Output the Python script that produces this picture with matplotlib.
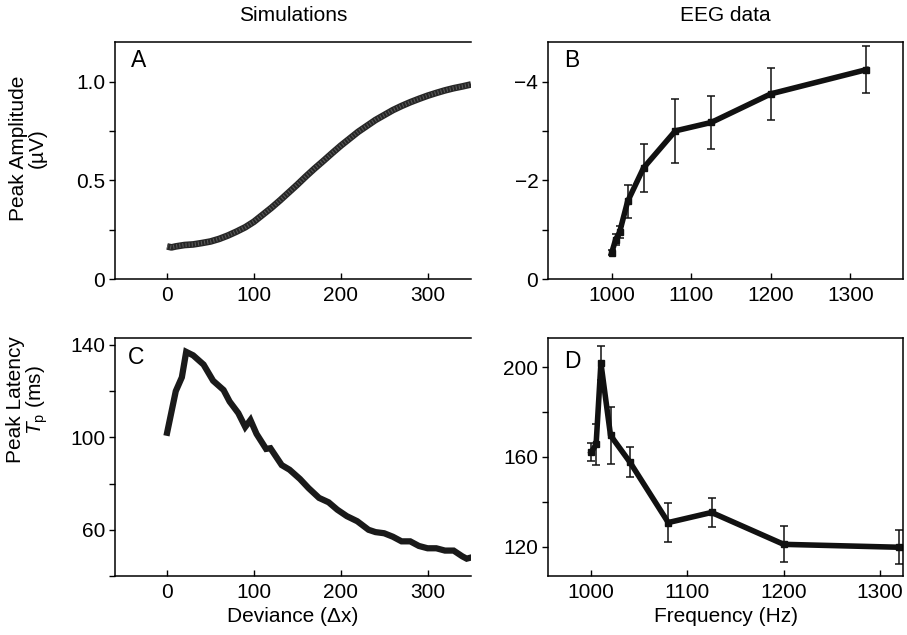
import matplotlib.pyplot as plt
from matplotlib.ticker import MultipleLocator

plt.rcParams['font.family'] = ['Liberation Sans', 'DejaVu Sans']
plt.rcParams['font.size'] = 15
plt.rcParams['mathtext.fontset'] = 'custom'
plt.rcParams['mathtext.it'] = 'Liberation Sans:italic'
plt.rcParams['mathtext.rm'] = 'Liberation Sans'

# simulations: deviance vs peak amplitude (A)
sim_dev_a = [0, 5, 10, 20, 30, 40, 50, 60, 70, 80, 90, 100, 110, 120, 130, 140,
             150, 160, 170, 180, 190, 200, 210, 220, 230, 240, 250, 260, 270,
             280, 290, 300, 310, 320, 330, 340, 350]
sim_amp = [0.165, 0.16, 0.165, 0.172, 0.175, 0.182, 0.19, 0.203, 0.22, 0.24,
           0.262, 0.29, 0.325, 0.36, 0.398, 0.438, 0.478, 0.52, 0.56, 0.598,
           0.637, 0.675, 0.71, 0.745, 0.775, 0.805, 0.83, 0.855, 0.876, 0.895,
           0.912, 0.928, 0.942, 0.955, 0.966, 0.975, 0.985]

# simulations: deviance vs peak latency (C)
sim_dev_c = [0, 10, 17, 22, 30, 42, 53, 65, 72, 82, 90, 96, 103, 114, 119, 132,
             141, 153, 163, 175, 186, 196, 207, 219, 232, 240, 250, 260, 270,
             280, 290, 300, 310, 320, 330, 340, 345, 350]
sim_lat = [102, 120, 126, 137, 135.5, 131.5, 124.5, 120.5, 115.5, 110.5, 104.5,
           107.5, 101.5, 95, 95.3, 88, 86, 82, 78, 73.8, 71.9, 68.7, 65.9, 63.7,
           60, 59, 58.5, 57, 55, 55, 53, 52, 52, 51, 51, 48.5, 47.5, 48]

# EEG data (B, D)
freq = [1000, 1005, 1010, 1020, 1040, 1080, 1125, 1200, 1320]
eeg_amp = [-0.53, -0.8, -0.95, -1.57, -2.25, -3.0, -3.17, -3.75, -4.24]
eeg_amp_err = [0.05, 0.12, 0.12, 0.33, 0.49, 0.65, 0.53, 0.52, 0.48]
eeg_lat = [162.2, 165.6, 201.8, 169.6, 157.8, 130.8, 135.3, 121.1, 119.8]
eeg_lat_err = [4, 9, 7.5, 12.5, 6.7, 8.7, 6.5, 8, 7.6]

W, H = 907, 635
fig = plt.figure(figsize=(W / 100, H / 100), dpi=100)


def box(l, t, r, b):
    return [l / W, 1 - b / H, (r - l) / W, (b - t) / H]


axA = fig.add_axes(box(115, 42, 471, 279))
axB = fig.add_axes(box(548, 42, 903, 279))
axC = fig.add_axes(box(115, 338, 471, 576))
axD = fig.add_axes(box(548, 338, 903, 576))

for ax in (axA, axB, axC, axD):
    ax.tick_params(axis='x', direction='in', length=4, width=1, pad=5, labelsize=15)
    ax.tick_params(axis='y', which='both', direction='out', length=4, width=1,
                   pad=3, labelsize=15)
    for s in ax.spines.values():
        s.set_linewidth(1.1)
for ax in (axA, axC):
    ax.spines['right'].set_visible(False)

# A
axA.plot(sim_dev_a, sim_amp, color='#262626', lw=4.8, solid_capstyle='butt')
axA.plot(sim_dev_a, sim_amp, color='#5a5a5a', lw=3, linestyle=(0, (0.25, 0.5)))
axA.set_xlim(-60, 350)
axA.set_ylim(0, 1.2)
axA.set_xticks([0, 100, 200, 300])
axA.set_yticks([0, 0.5, 1.0])
axA.set_yticklabels(['0', '0.5', '1.0'])
axA.yaxis.set_minor_locator(MultipleLocator(0.25))
axA.set_title('Simulations', fontsize=15, pad=15)
axA.text(0.045, 0.92, 'A', transform=axA.transAxes, fontsize=16.5, va='center')

# B
axB.errorbar(freq, eeg_amp, yerr=eeg_amp_err, color='#111111', lw=4,
             marker='s', ms=4, ecolor='#111111', elinewidth=1.1, capsize=3,
             capthick=1.1)
axB.set_xlim(920, 1366)
axB.set_ylim(0, -4.8)
axB.set_xticks([1000, 1100, 1200, 1300])
axB.set_yticks([0, -2, -4])
axB.set_yticklabels(['0', '\u22122', '\u22124'])
axB.yaxis.set_minor_locator(MultipleLocator(1))
axB.set_title('EEG data', fontsize=15, pad=15)
axB.text(0.045, 0.92, 'B', transform=axB.transAxes, fontsize=16.5, va='center')

# C
axC.plot(sim_dev_c, sim_lat, color='#1a1a1a', lw=4.5, solid_joinstyle='miter')
axC.set_xlim(-60, 350)
axC.set_ylim(40, 143)
axC.set_xticks([0, 100, 200, 300])
axC.set_yticks([60, 100, 140])
axC.yaxis.set_minor_locator(MultipleLocator(20))
axC.set_xlabel('Deviance (\u0394x)', fontsize=15, labelpad=4)
axC.text(0.035, 0.92, 'C', transform=axC.transAxes, fontsize=16.5, va='center')

# D
axD.errorbar(freq, eeg_lat, yerr=eeg_lat_err, color='#111111', lw=4,
             marker='s', ms=4, ecolor='#111111', elinewidth=1.1, capsize=3,
             capthick=1.1)
axD.set_xlim(955, 1324)
axD.set_ylim(107, 213)
axD.set_xticks([1000, 1100, 1200, 1300])
axD.set_yticks([120, 160, 200])
axD.yaxis.set_minor_locator(MultipleLocator(20))
axD.set_xlabel('Frequency (Hz)', fontsize=15, labelpad=4)
axD.text(0.045, 0.9, 'D', transform=axD.transAxes, fontsize=16.5, va='center')

fig.text(28 / W, 1 - 148 / H, 'Peak Amplitude\n(\u00b5V)', rotation=90,
         ha='center', va='center', multialignment='center', fontsize=15,
         linespacing=0.95)
fig.text(28 / W, 1 - 400 / H, 'Peak Latency\n$T_\\mathrm{p}$ (ms)', rotation=90,
         ha='center', va='center', multialignment='center', fontsize=15,
         linespacing=0.95)

fig.savefig('out.png', dpi=100)
